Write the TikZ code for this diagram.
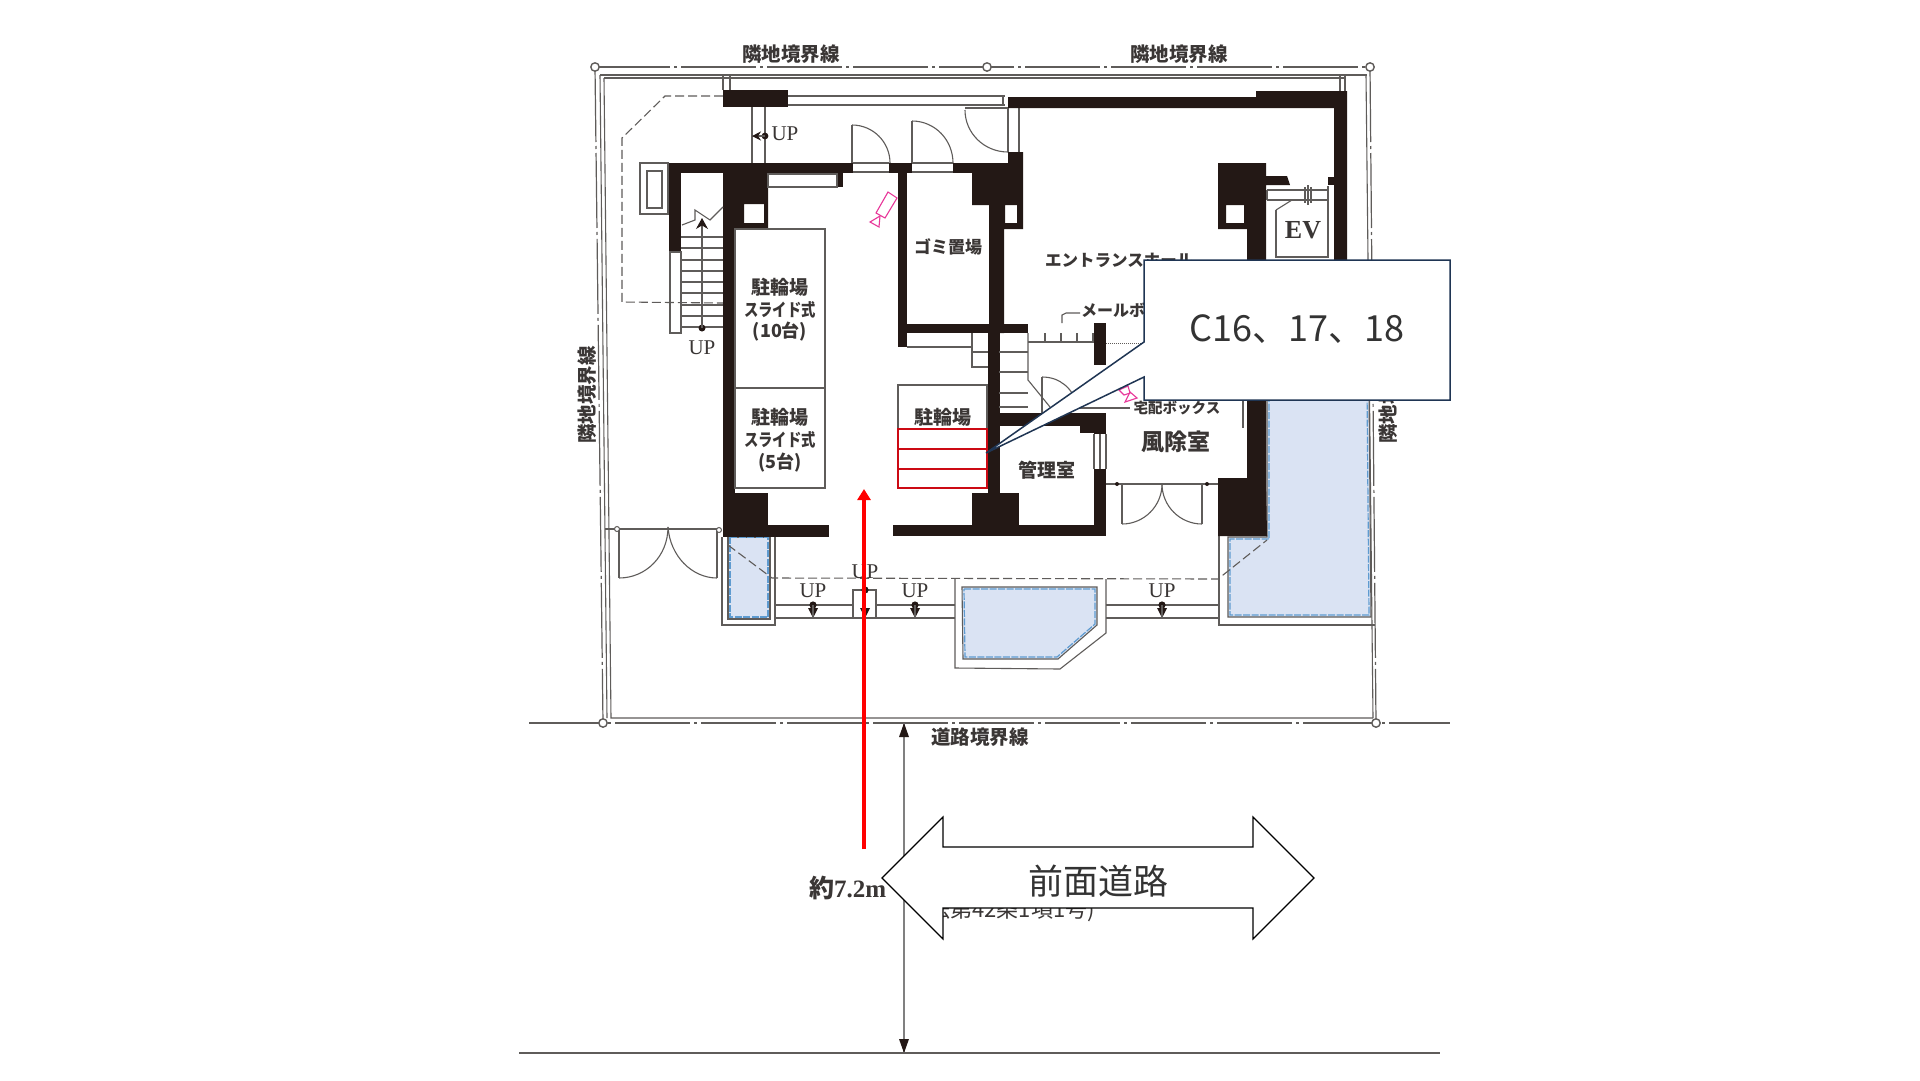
\documentclass[tikz,border=0pt]{standalone}
\usepackage{fontspec}
\usetikzlibrary{arrows.meta}
\setmainfont{Noto Sans CJK JP}
\newfontfamily\serfam{Liberation Serif}
\newfontfamily\narrowfam[FakeStretch=0.82]{Noto Sans CJK JP}
\definecolor{wallc}{HTML}{231815}
\definecolor{linec}{HTML}{5F5C5A}
\definecolor{pinkc}{HTML}{E8389A}
\definecolor{poolc}{HTML}{DAE3F3}
\definecolor{pooledge}{HTML}{5E9BD0}
\definecolor{navyc}{HTML}{1F3553}
\definecolor{redbox}{HTML}{CC0A14}
\definecolor{textc}{HTML}{3A3635}
\tikzset{
  wall/.style={fill=wallc,draw=none},
  thinl/.style={draw=linec,line width=1.1pt},
  bound/.style={draw=linec,line width=1.2pt,dash pattern=on 75pt off 4pt on 3pt off 4pt},
  dashl/.style={draw=linec,line width=1.1pt,dash pattern=on 9pt off 4pt},
  pool/.style={fill=poolc,draw=linec,line width=1.1pt},
  pooldash/.style={draw=pooledge,line width=1.2pt,dash pattern=on 7pt off 1.5pt},
  pink/.style={draw=pinkc,line width=1.1pt},
  pin/.style={draw=linec,fill=white,line width=1.4pt},
  lab/.style={inner sep=0pt,text=textc,font=\bfseries\fontsize{19}{21}\selectfont},
  slab/.style={inner sep=0pt,text=textc,font=\narrowfam\bfseries\fontsize{17.5}{20}\selectfont},
  biglab/.style={inner sep=0pt,text=textc,font=\bfseries\fontsize{19.5}{21}\selectfont},
  uplab/.style={inner sep=0pt,text=textc,font=\serfam\fontsize{21}{23}\selectfont},
}
\newcommand{\qarc}[8]{\draw[thinl] (#1,#2) .. controls (#3,#4) and (#5,#6) .. (#7,#8);}
\begin{document}
\begin{tikzpicture}[x=1pt,y=-1pt]
\useasboundingbox[fill=white] (0,0) rectangle (1920,1080);
% pools
\path[pool] (728,537) -- (770,537) -- (770,619) -- (728,619) -- cycle;
\path[pool] (962,587) -- (1097,587) -- (1097,625) -- (1058,659) -- (963,659) -- cycle;
\path[pool] (1267,390) -- (1369,390) -- (1371,617) -- (1228,617) -- (1228,537) -- (1267,537) -- cycle;
\path[pooldash] (730,537) -- (768,537) -- (768,617) -- (730,617) -- cycle;
\path[pooldash] (964,589) -- (1095,589) -- (1095,624) -- (1057,657) -- (965,657) -- cycle;
\path[pooldash] (1269,390) -- (1367,390) -- (1369,615) -- (1230,615) -- (1230,539) -- (1269,539) -- cycle;
\draw[thinl] (722,537) -- (722,625) -- (775,625) -- (775,537);
\draw[thinl] (955,578) -- (955,668) -- (1060,669) -- (1106,633) -- (1106,579);
\draw[thinl] (1219,536) -- (1219,625) -- (1375,625);
% boundary lines
\coordinate (cTL) at (595,67);
\coordinate (cTM) at (987,67);
\coordinate (cTR) at (1370,67);
\coordinate (cBL) at (603,723);
\coordinate (cBR) at (1376,723);
\draw[bound] (cTL) -- (cTR);
\draw[bound] (cTL) -- (cBL);
\draw[bound] (cTR) -- (cBR);
\draw[bound] (529,723) -- (1450,723);
\draw[thinl] (600,75) -- (1367,75);
\draw[thinl] (604,78) -- (1345,78);
\draw[thinl] (600,75) -- (607,718);
\draw[thinl] (604,78) -- (611,718) -- (1373,718);
\draw[thinl] (1366,75) -- (1373,718);
\draw[thinl] (1340,75) -- (1340,91) (1345,75) -- (1345,91);
\draw[thinl] (723,75) -- (723,90) (730,75) -- (730,90);
\foreach \c in {cTL,cTM,cTR,cBL,cBR} \draw[pin] (\c) circle[radius=4.2pt];
% dashed eaves
\draw[dashl] (723,96) -- (665,96) -- (622,138) -- (622,302) -- (723,303);
\draw[dashl] (728,545) -- (772,578) -- (1218,579) -- (1267,540);
% walkway
\draw[thinl] (775,605) -- (853,605) (876,605) -- (955,605);
\draw[thinl] (775,618) -- (955,618);
\draw[thinl] (853,618) -- (853,590) -- (876,590) -- (876,618);
\draw[thinl] (1106,605) -- (1219,605) (1106,618) -- (1219,618);
% thin double walls
\draw[thinl] (788,96) -- (1005,96) (788,105) -- (1005,105) (1003,96) -- (1003,105);
\draw[thinl] (752,107) -- (752,163) (765,107) -- (765,163);
\draw[thinl] (1008,108) -- (1008,152) (1019,108) -- (1019,152);
\draw[thinl] (853,163) -- (889,163) (853,172) -- (889,172) (912,163) -- (953,163) (912,172) -- (953,172);
% doors
\draw[thinl] (852,163) -- (852,125);
\qarc{852}{125}{873}{125}{890}{142}{890}{163}
\draw[thinl] (912,163) -- (912,121);
\qarc{912}{121}{935}{121}{953}{140}{953}{163}
\draw[thinl] (965,108) -- (1008,108);
\qarc{965}{110}{965}{133}{984}{152}{1008}{152}
% entrance double doors
\draw[thinl] (605,529) -- (717,529);
\draw[thinl] (619,530) -- (619,578) (717,530) -- (717,578);
\qarc{619}{578}{646}{578}{668}{556}{668}{527}
\qarc{717}{578}{692}{578}{670}{556}{668}{527}
\draw[pin,line width=1pt] (617,529) circle[radius=2.5pt] (719,530) circle[radius=2.5pt];
\draw[thinl] (1106,484) -- (1218,484);
\draw[thinl] (1122,484) -- (1122,524) (1202,484) -- (1202,524);
\qarc{1122}{524}{1144}{524}{1162}{506}{1162}{484}
\qarc{1202}{524}{1180}{524}{1162}{506}{1162}{484}
\fill[wallc] (1117,484) circle[radius=2pt] (1207,484) circle[radius=2pt];
% walls
\fill[wall] (723,90) rectangle (788,107);
\fill[wall] (669,163) rectangle (853,173);
\fill[wall] (889,163) rectangle (912,173);
\fill[wall] (953,163) rectangle (1008,173);
\fill[wall] (669,163) rectangle (681,252);
\fill[wall,even odd rule] (723,163) rectangle (768,229) (744,204) rectangle (764,223);
\fill[wall] (723,229) rectangle (735,493);
\fill[wall] (723,493) rectangle (768,537);
\fill[wall] (723,525) rectangle (829,537);
\fill[wall] (837,173) rectangle (843,187);
\fill[wall] (898,163) rectangle (907,347);
\fill[wall] (898,324) rectangle (1028,333);
\fill[wall] (1008,97) -- (1256,97) -- (1256,91) -- (1347,91) -- (1347,300) -- (1334,300) -- (1334,108) -- (1019,108) -- (1008,108) -- cycle;
\fill[wall,even odd rule] (1008,152) -- (1023,152) -- (1023,229) -- (1004,229) -- (1004,333) -- (989,333) -- (989,205) -- (972,205) -- (972,163) -- (1008,163) -- cycle
  (1005,205) rectangle (1017,223);
\fill[wall] (988,333) rectangle (1000,536);
\fill[wall] (972,493) rectangle (1019,536);
\fill[wall] (893,525) rectangle (1106,536);
\fill[wall] (1000,413) rectangle (1080,426);
\fill[wall] (1080,413) rectangle (1106,433);
\fill[wall] (1094,433) rectangle (1106,434);
\fill[wall] (1094,469) rectangle (1106,536);
\draw[thinl] (1094,434) -- (1094,469) (1100,434) -- (1100,469) (1106,434) -- (1106,469);
\fill[wall] (1094,323) rectangle (1106,365);
\fill[wall,even odd rule] (1218,163) -- (1266,163) -- (1266,176) -- (1287,176) -- (1290,185) -- (1266,185) -- (1266,478) -- (1267,536) -- (1218,536) -- (1218,478) -- (1247,478) -- (1247,229) -- (1218,229) -- cycle
  (1226,205) rectangle (1244,223);
\fill[wall] (1328,177) rectangle (1335,185);
% EV
\draw[thinl] (1267,190) -- (1327,190) (1267,200) -- (1327,200) (1267,190) -- (1267,200);
\draw[thinl] (1276,210) -- (1276,257) -- (1328,257) -- (1328,186);
\draw[thinl] (1276,210) -- (1292,200);
\draw[thinl] (1308,185) -- (1308,205) (1305,187) -- (1305,203) (1311,187) -- (1311,203);
\node[uplab,font=\serfam\bfseries\fontsize{26}{28}\selectfont] (ev) at (1303,230) {EV};
% small box and stair
\draw[thinl] (640,163) rectangle (668,214);
\draw[thinl] (647,171) rectangle (662,208);
\draw[thinl] (670,252) rectangle (681,333);
\foreach \yy in {237,248,260,271,282,293,305,316,327} \draw[thinl] (681,\yy) -- (723,\yy);
\draw[thinl] (682,225) -- (695,220) -- (695,210) -- (710,220) -- (723,207);
\coordinate (stS) at (702,328);
\coordinate (stE) at (702,218);
\fill[wallc] (stS) circle[radius=3.5pt];
\draw[thinl,-{Stealth[length=11pt,width=12pt,wallc]}] (stS) -- (stE);
\node[uplab] (u1) at (702,348) {UP};
% inner double at top wall
\draw[thinl] (768,174) rectangle (837,187);
% bike racks
\draw[thinl] (735,229) rectangle (825,388);
\draw[thinl] (735,388) rectangle (825,488);
\draw[thinl] (898,488) -- (898,385) -- (987,385) -- (987,488);
\draw[thinl] (907,347) -- (972,347);
\draw[thinl] (972,333) -- (972,367) -- (988,367);
\draw[thinl] (972,352) -- (988,352);
\draw[thinl] (999,352) -- (1028,352) (999,372) -- (1028,372) (999,393) -- (1028,393) (999,407) -- (1028,407);
\draw[thinl] (1028,333) -- (1028,380) -- (1050,407);
% mailbox
\foreach \xx in {1045,1061,1077,1093} \draw[thinl] (\xx,333) -- (\xx,342);
\draw[thinl] (1028,342) -- (1094,342);
\draw[thinl] (1062,323) -- (1062,315) -- (1066,313) -- (1080,313);
\draw[draw=linec,line width=1pt,densely dotted] (1106,343) -- (1200,343);
% door to wind room
\draw[thinl] (1042,413) -- (1042,377);
\qarc{1042}{377}{1060}{377}{1072}{388}{1078}{405}
\draw[thinl] (1077,408) -- (1130,408);
\draw[thinl] (1243,380) -- (1243,428);
% cameras
\draw[pink] (888,192) -- (897,198) -- (885,218) -- (876,213) -- cycle;
\draw[pink] (880,216) -- (879,227) -- (870,222) -- cycle;
\draw[pink] (1119,390) -- (1128,386) -- (1130,393) -- (1124,395) -- cycle;
\draw[pink] (1125,402) -- (1137,398) -- (1130,392) -- cycle;
% UP arrows
\foreach \xx/\ya/\yb in {813/605/618,865/590/618,915/605/618,1162/605/618} {
  \fill[wallc] (\xx,\ya) circle[radius=3.6pt];
  \fill[wallc] (\xx-5,{\yb-10}) -- (\xx+5,{\yb-10}) -- (\xx,\yb) -- cycle;
  \draw[thinl] (\xx,\ya) -- (\xx,\yb);
}
\coordinate (upS) at (765,136);
\coordinate (upE) at (752,136);
\fill[wallc] (upS) circle[radius=3.4pt];
\draw[thinl,-{Stealth[length=9pt,width=9pt,wallc]}] (upS) -- (upE);
\node[uplab] (u2) at (785,134) {UP};
\node[uplab] (u3) at (813,591) {UP};
\node[uplab] (u4) at (865,572) {UP};
\node[uplab] (u5) at (915,591) {UP};
\node[uplab] (u6) at (1162,591) {UP};
% labels
\node[biglab] (t1) at (791,54) {隣地境界線};
\node[biglab] (t2) at (1179,54) {隣地境界線};
\node[biglab,rotate=90] (t3) at (587,395) {隣地境界線};
\node[biglab,rotate=90] (t4) at (1388,395) {隣地境界線};
\node[biglab] (t5) at (980,737) {道路境界線};
\node[lab] (r1) at (780,287) {駐輪場};
\node[slab] (r2) at (780,310) {スライド式};
\node[lab,font=\bfseries\fontsize{18}{20}\selectfont] (r3) at (780,332) {(10台)};
\node[lab] (r4) at (780,417) {駐輪場};
\node[slab] (r5) at (780,440) {スライド式};
\node[lab,font=\bfseries\fontsize{18}{20}\selectfont] (r6) at (780,463) {(5台)};
\node[lab] (r7) at (943,417) {駐輪場};
\node[lab,font=\bfseries\fontsize{17}{19}\selectfont] (r8) at (948,247) {ゴミ置場};
\node[lab,anchor=west,font=\bfseries\fontsize{16.5}{18}\selectfont] (r9) at (1045,260) {エントランスホール};
\node[lab,anchor=west,font=\bfseries\fontsize{16}{18}\selectfont] (r10) at (1081,311) {メールボックス};
\node[lab,font=\bfseries\fontsize{14.5}{16}\selectfont] (r11) at (1177,408) {宅配ボックス};
\node[lab,font=\bfseries\fontsize{23}{25}\selectfont] (r12) at (1176,442) {風除室};
\node[lab] (r13) at (1047,470) {管理室};
\node[lab,anchor=west,font=\bfseries\fontsize{25}{27}\selectfont] (w1) at (809,888) {約\serfam 7.2m};
\node[lab,anchor=east,font=\fontsize{22}{24}\selectfont] (w2) at (1095,910) {(法第42条1項1号)};
% dimension
\coordinate (dimT) at (904,723);
\coordinate (dimB) at (904,1053);
\draw[draw=gray,line width=1.5pt] (dimT) -- (dimB);
\fill[wallc] (dimT) -- (899,737) -- (909,737) -- cycle;
\fill[wallc] (dimB) -- (899,1039) -- (909,1039) -- cycle;
\draw[draw=linec,line width=1.6pt] (519,1053) -- (1440,1053);
% red rack
\draw[redbox,line width=1.5pt] (898,429) rectangle (987,488);
\draw[redbox,line width=1.5pt] (898,449) -- (987,449) (898,469) -- (987,469);
% callout
\path[fill=white,draw=navyc,line width=1.5pt] (1144,260) -- (1450,260) -- (1450,400) -- (1144,400) -- (1144,377) -- (986,453) -- (1144,342) -- cycle;
\node[inner sep=0pt,font=\fontsize{36}{40}\selectfont,text=black!80] (call) at (1297,329) {C16、17、18};
% red arrow
\coordinate (redS) at (864,849);
\coordinate (redE) at (864,489);
\draw[draw=red,line width=4pt,-{Triangle[length=11pt,width=13pt,red]}] (redS) -- (redE);
% road double arrow
\path[fill=white,draw=black,line width=1.2pt] (882,878) -- (943,817) -- (943,847) -- (1253,847) -- (1253,817) -- (1314,878) -- (1253,939) -- (1253,908) -- (943,908) -- (943,939) -- cycle;
\node[inner sep=0pt,font=\fontsize{35}{38}\selectfont,text=black!80] (road) at (1098,881) {前面道路};
\end{tikzpicture}
\end{document}
